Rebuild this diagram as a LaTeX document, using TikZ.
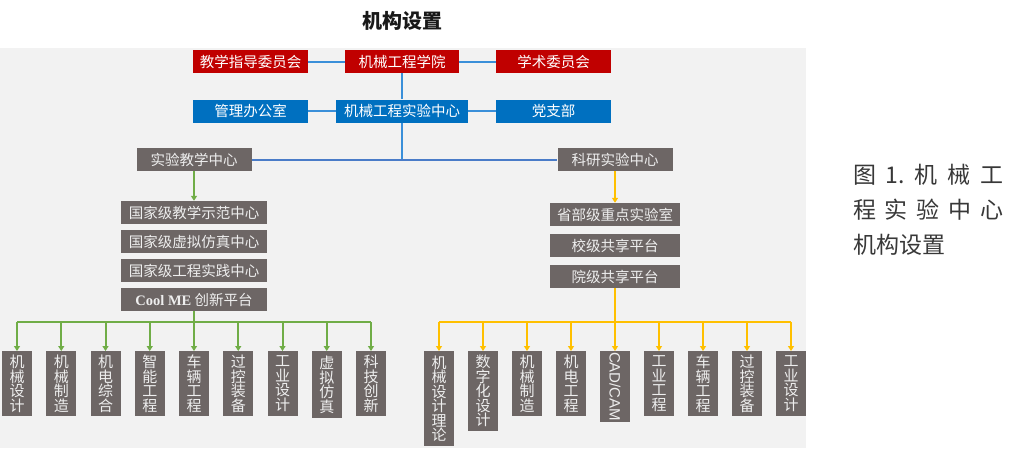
\documentclass[tikz,border=0pt]{standalone}
\usepackage{fontspec}
\usepackage{graphicx}
\setmainfont{Noto Sans CJK SC}
\newfontfamily\serifbold{Liberation Serif}
\newfontfamily\arialfont{Liberation Sans}
\usetikzlibrary{arrows.meta}
\definecolor{bgc}{HTML}{F2F2F2}
\definecolor{cred}{HTML}{C00000}
\definecolor{cblue}{HTML}{0070C0}
\definecolor{cgray}{HTML}{6D6665}
\definecolor{ctext}{HTML}{EEEEEE}
\definecolor{lblue}{HTML}{3A8FD9}
\definecolor{busblue}{HTML}{4A7CC8}
\definecolor{cgreen}{HTML}{70AD47}
\definecolor{cyellow}{HTML}{FFC000}
\begin{document}
\begin{tikzpicture}[x=1pt,y=-1pt,
  box/.style={inner sep=0pt, minimum height=23pt, font=\fontsize{14.5}{16}\selectfont},
  redbox/.style={box, fill=cred, text=white},
  bluebox/.style={box, fill=cblue, text=white},
  graybox/.style={box, fill=cgray, text=ctext},
  vbox/.style={graybox, anchor=north, minimum width=30pt, minimum height=65pt, align=center, font=\fontsize{15}{14.5}\selectfont},
  bline/.style={draw=lblue, line width=2pt},
  busline/.style={draw=busblue, line width=2pt},
  gline/.style={draw=cgreen, line width=2pt},
  yline/.style={draw=cyellow, line width=2pt},
  garrow/.style={gline, -{Triangle[length=5pt,width=6pt]}},
  yarrow/.style={yline, -{Triangle[length=5pt,width=6pt]}},
  captxt/.style={inner sep=0pt, anchor=west, text=black!78, font=\fontsize{23}{26}\selectfont}
]
\useasboundingbox (0,0) rectangle (1024,448);
\fill[bgc] (0,48) rectangle (806,448);

% title
\node[inner sep=0pt, text=black!90, font=\fontsize{20}{22}\selectfont\bfseries] (title) at (402,21) {机构设置};

% top rows
\node[redbox, minimum width=115pt] (tjw) at (250.5,61.5) {教学指导委员会};
\node[redbox, minimum width=114pt] (college) at (402,61.5) {机械工程学院};
\node[redbox, minimum width=115pt] (xsw) at (553.5,61.5) {学术委员会};
\node[bluebox, minimum width=115pt] (glb) at (250.5,111) {管理办公室};
\node[bluebox, minimum width=132pt] (center) at (402,111) {机械工程实验中心};
\node[bluebox, minimum width=115pt] (dzb) at (553.5,111) {党支部};

% second level
\node[graybox, minimum width=115pt] (syjx) at (194,159.5) {实验教学中心};
\node[graybox, minimum width=115pt] (kysy) at (615,159.5) {科研实验中心};

% left stack
\node[graybox, minimum width=146pt] (ls1) at (194,212.5) {国家级教学示范中心};
\node[graybox, minimum width=146pt] (ls2) at (194,241.5) {国家级虚拟仿真中心};
\node[graybox, minimum width=146pt] (ls3) at (194,270.5) {国家级工程实践中心};
\node[graybox, minimum width=146pt] (ls4) at (194,299.5) {{\serifbold\bfseries Cool ME} 创新平台};

% right stack
\node[graybox, minimum width=130pt] (rs1) at (615,214.5) {省部级重点实验室};
\node[graybox, minimum width=130pt] (rs2) at (615,245.5) {校级共享平台};
\node[graybox, minimum width=130pt] (rs3) at (615,276.5) {院级共享平台};

% bottom left
\node[vbox] (l1) at (17,351) {机\\械\\设\\计};
\node[vbox] (l2) at (61.25,351) {机\\械\\制\\造};
\node[vbox] (l3) at (105.5,351) {机\\电\\综\\合};
\node[vbox] (l4) at (149.75,351) {智\\能\\工\\程};
\node[vbox] (l5) at (194,351) {车\\辆\\工\\程};
\node[vbox] (l6) at (238.25,351) {过\\控\\装\\备};
\node[vbox] (l7) at (282.5,351) {工\\业\\设\\计};
\node[vbox, minimum height=67pt] (l8) at (326.75,351) {虚\\拟\\仿\\真};
\node[vbox] (l9) at (371,351) {科\\技\\创\\新};

% bottom right
\node[vbox, minimum height=95pt] (r1) at (439,351) {机\\械\\设\\计\\理\\论};
\node[vbox, minimum height=80pt] (r2) at (483,351) {数\\字\\化\\设\\计};
\node[vbox] (r3) at (527,351) {机\\械\\制\\造};
\node[vbox] (r4) at (571,351) {机\\电\\工\\程};
\node[vbox, minimum height=71pt] (r5) at (615,351) {\rotatebox{-90}{\arialfont\fontsize{15}{16}\selectfont CAD/CAM}};
\node[vbox] (r6) at (659,351) {工\\业\\工\\程};
\node[vbox] (r7) at (703,351) {车\\辆\\工\\程};
\node[vbox] (r8) at (747,351) {过\\控\\装\\备};
\node[vbox] (r9) at (791,351) {工\\业\\设\\计};

% caption
\node[captxt] (cap1) at (853,175) {\hbox to 150pt{图\hfill 1.\hfill 机\hfill 械\hfill 工}};
\node[captxt] (cap2) at (853,210) {\hbox to 150pt{程\hfill 实\hfill 验\hfill 中\hfill 心}};
\node[captxt] (cap3) at (853,245) {机构设置};

% connectors top
\draw[bline] (tjw) -- (college);
\draw[bline] (college) -- (xsw);
\draw[bline] (college) -- (center);
\draw[bline] (glb) -- (center);
\draw[bline] (center) -- (dzb);
\coordinate (j1) at (402,159.5);
\draw[bline] (center.south) -- (j1);
\draw[busline] (syjx) -- (kysy);
\draw[garrow] (syjx.south) -- (ls1.north);
\draw[yarrow] (kysy.south) -- (rs1.north);

% green bus
\coordinate (gb) at (194,322);
\draw[gline] (ls4.south) -- (gb);
\draw[gline] (l1.north |- gb) -- (l9.north |- gb);
\foreach \i in {1,...,9} \draw[garrow] (l\i.north |- gb) -- (l\i.north);

% yellow bus
\coordinate (yb) at (615,322);
\draw[yline] (rs3.south) -- (yb);
\draw[yline] (r1.north |- yb) -- (r9.north |- yb);
\foreach \i in {1,...,9} \draw[yarrow] (r\i.north |- yb) -- (r\i.north);
\end{tikzpicture}
\end{document}
